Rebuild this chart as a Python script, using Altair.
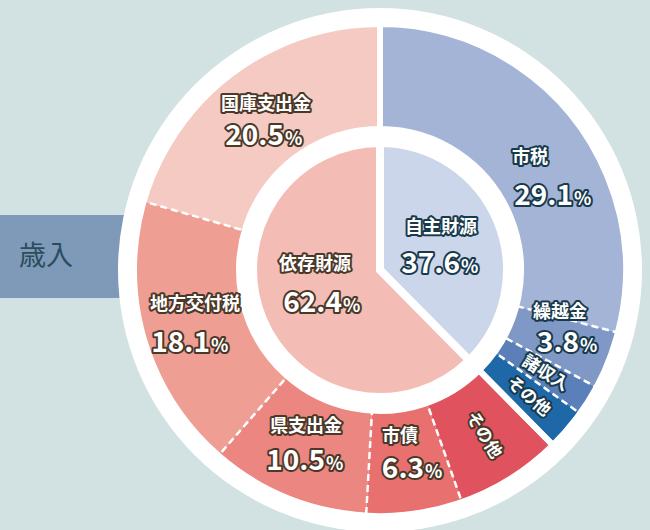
import altair as alt
import pandas as pd
import numpy as np

# ---------------- data ----------------
outer_names = ["市税", "繰越金", "諸収入", "その他", "その他", "市債", "県支出金", "地方交付税", "国庫支出金"]
outer_values = [29.1, 3.8, 2.0, 2.7, 7.0, 6.3, 10.5, 18.1, 20.5]
outer_groups = ["自主財源"] * 4 + ["依存財源"] * 5
inner_names = ["自主財源", "依存財源"]
inner_values = [37.6, 62.4]
side_label = "歳入"

# ---------------- styles ----------------
outer_colors = ["#a4b4d6", "#8098c6", "#5b80b9", "#1f68a8", "#e0525d",
                "#e8706f", "#ec8680", "#ef9e93", "#f5cac2"]
inner_colors = ["#ccd6ea", "#f3bdb5"]
group_outline = {"自主財源": "#183a4c", "依存財源": "#4a3829"}
dashed_idx = [1, 3, 5, 7]      # segments whose outline draws the dashed separators
rotated_idx = [2, 3, 4]        # small segments with rotated names
FONT = "Noto Sans CJK JP"
BG = "#d2e1e1"

# ---------------- layout ----------------
CX, CY = 380, 270
R_OUT, R_IN, R_PIE, R_DISC = 246, 141, 127, 262
ROT_R = 195
name_offsets = {0: (150, -112), 1: (180, 43), 5: (20, 167), 6: (-74, 157),
                7: (-185, 35), 8: (-114, -165)}
value_offsets = {0: (193, -65), 1: (199, 82), 5: (44, 208), 6: (-55, 200),
                 7: (-170, 82), 8: (-96, -125)}
inner_name_offsets = [(61, -42), (-65, -5)]
inner_value_offsets = [(80, 3), (-38, 42)]

# ---------------- tables ----------------
outer = pd.DataFrame({"name": outer_names, "value": outer_values,
                      "group": outer_groups, "color": outer_colors})
outer["end"] = outer["value"].cumsum()
outer["start"] = outer["end"] - outer["value"]
outer["mid"] = (outer["start"] + outer["end"]) / 2
outer["outline"] = outer["group"].map(group_outline)

inner = pd.DataFrame({"name": inner_names, "value": inner_values, "color": inner_colors})
inner["end"] = inner["value"].cumsum()
inner["start"] = inner["end"] - inner["value"]
inner["outline"] = inner["name"].map(group_outline)

disc = pd.DataFrame({"start": [0.0], "end": [100.0]})
dummy = pd.DataFrame({"label": [side_label]})

# name labels
rows = []
for i, r in outer.iterrows():
    if i in name_offsets:
        ox, oy = name_offsets[i]
        rows.append({"text": r["name"], "x": CX + ox, "y": CY + oy, "angle": 0.0,
                     "size": 18, "outline": r["outline"]})
    elif i in rotated_idx:
        th = np.deg2rad(r["mid"] * 3.6)
        rows.append({"text": r["name"], "x": CX + ROT_R * np.sin(th), "y": CY - ROT_R * np.cos(th),
                     "angle": r["mid"] * 3.6 - 90, "size": 17, "outline": r["outline"]})
for i, r in inner.iterrows():
    ox, oy = inner_name_offsets[i]
    rows.append({"text": r["name"], "x": CX + ox, "y": CY + oy, "angle": 0.0,
                 "size": 18, "outline": r["outline"]})
names_df = pd.DataFrame(rows)

vrows = []
for i, r in outer.iterrows():
    if i in value_offsets:
        ox, oy = value_offsets[i]
        vrows.append({"num": f"{r['value']:.1f}", "pct": "%", "x": CX + ox, "y": CY + oy, "outline": r["outline"]})
for i, r in inner.iterrows():
    ox, oy = inner_value_offsets[i]
    vrows.append({"num": f"{r['value']:.1f}", "pct": "%", "x": CX + ox, "y": CY + oy, "outline": r["outline"]})
values_df = pd.DataFrame(vrows)

theta_scale = alt.Scale(domain=[0, 100])
center = dict(x=alt.value(CX), y=alt.value(CY))

# ---------------- layers ----------------
box = alt.Chart(dummy).mark_rect(color="#7f99b9").encode(
    x=alt.value(0), x2=alt.value(200), y=alt.value(215), y2=alt.value(298))
box_text = alt.Chart(dummy).mark_text(font=FONT, fontSize=27, color="#2a4d5c",
                                      align="center", baseline="middle").encode(
    x=alt.value(46), y=alt.value(257), text="label:N")

disc_l = alt.Chart(disc).mark_arc(radius=R_DISC, color="white").encode(
    theta=alt.Theta("start:Q", scale=theta_scale), theta2="end:Q", **center)

outer_l = alt.Chart(outer).mark_arc(radius=R_OUT, radius2=R_IN).encode(
    theta=alt.Theta("start:Q", scale=theta_scale), theta2="end:Q",
    fill=alt.Fill("color:N", scale=None), **center)

dashed_l = alt.Chart(outer.iloc[dashed_idx]).mark_arc(
    radius=R_OUT, radius2=R_IN, fill="white", fillOpacity=0, stroke="white",
    strokeWidth=2.5, strokeDash=[7, 4]).encode(
    theta=alt.Theta("start:Q", scale=theta_scale), theta2="end:Q", **center)

group_l = alt.Chart(inner).mark_arc(
    radius=R_OUT, radius2=R_IN, fill="white", fillOpacity=0, stroke="white",
    strokeWidth=6).encode(
    theta=alt.Theta("start:Q", scale=theta_scale), theta2="end:Q", **center)

inner_l = alt.Chart(inner).mark_arc(radius=R_PIE, stroke="white", strokeWidth=8).encode(
    theta=alt.Theta("start:Q", scale=theta_scale), theta2="end:Q",
    fill=alt.Fill("color:N", scale=None), **center)

pos = dict(x=alt.X("x:Q", scale=None, axis=None), y=alt.Y("y:Q", scale=None, axis=None))

name_stroke = alt.Chart(names_df).mark_text(
    font=FONT, fontWeight="bold", strokeWidth=4, strokeJoin="round",
    align="center", baseline="middle").encode(
    text="text:N", angle=alt.Angle("angle:Q", scale=None),
    size=alt.Size("size:Q", scale=None),
    fill=alt.Fill("outline:N", scale=None), stroke=alt.Stroke("outline:N", scale=None), **pos)
name_fill = alt.Chart(names_df).mark_text(
    font=FONT, fontWeight="bold", fill="white",
    align="center", baseline="middle").encode(
    text="text:N", angle=alt.Angle("angle:Q", scale=None),
    size=alt.Size("size:Q", scale=None), **pos)

num_stroke = alt.Chart(values_df).mark_text(
    font=FONT, fontSize=28, fontWeight="bold", strokeWidth=4, strokeJoin="round",
    align="right", baseline="alphabetic").encode(
    text="num:N", fill=alt.Fill("outline:N", scale=None),
    stroke=alt.Stroke("outline:N", scale=None), **pos)
num_fill = alt.Chart(values_df).mark_text(
    font=FONT, fontSize=28, fontWeight="bold", fill="white",
    align="right", baseline="alphabetic").encode(text="num:N", **pos)

pct_stroke = alt.Chart(values_df).mark_text(
    font=FONT, fontSize=18, fontWeight="bold", strokeWidth=4, strokeJoin="round",
    align="left", baseline="alphabetic", dx=1).encode(
    text="pct:N", fill=alt.Fill("outline:N", scale=None),
    stroke=alt.Stroke("outline:N", scale=None), **pos)
pct_fill = alt.Chart(values_df).mark_text(
    font=FONT, fontSize=18, fontWeight="bold", fill="white",
    align="left", baseline="alphabetic", dx=1).encode(text="pct:N", **pos)

chart = alt.layer(
    box, box_text, disc_l, outer_l, dashed_l, group_l, inner_l,
    name_stroke, name_fill, num_stroke, num_fill, pct_stroke, pct_fill
).properties(
    width=650, height=530, padding=0, autosize="none", background=BG
).configure_view(stroke=None)

chart.save("out.html", embed_options={"renderer": "svg", "actions": False})
